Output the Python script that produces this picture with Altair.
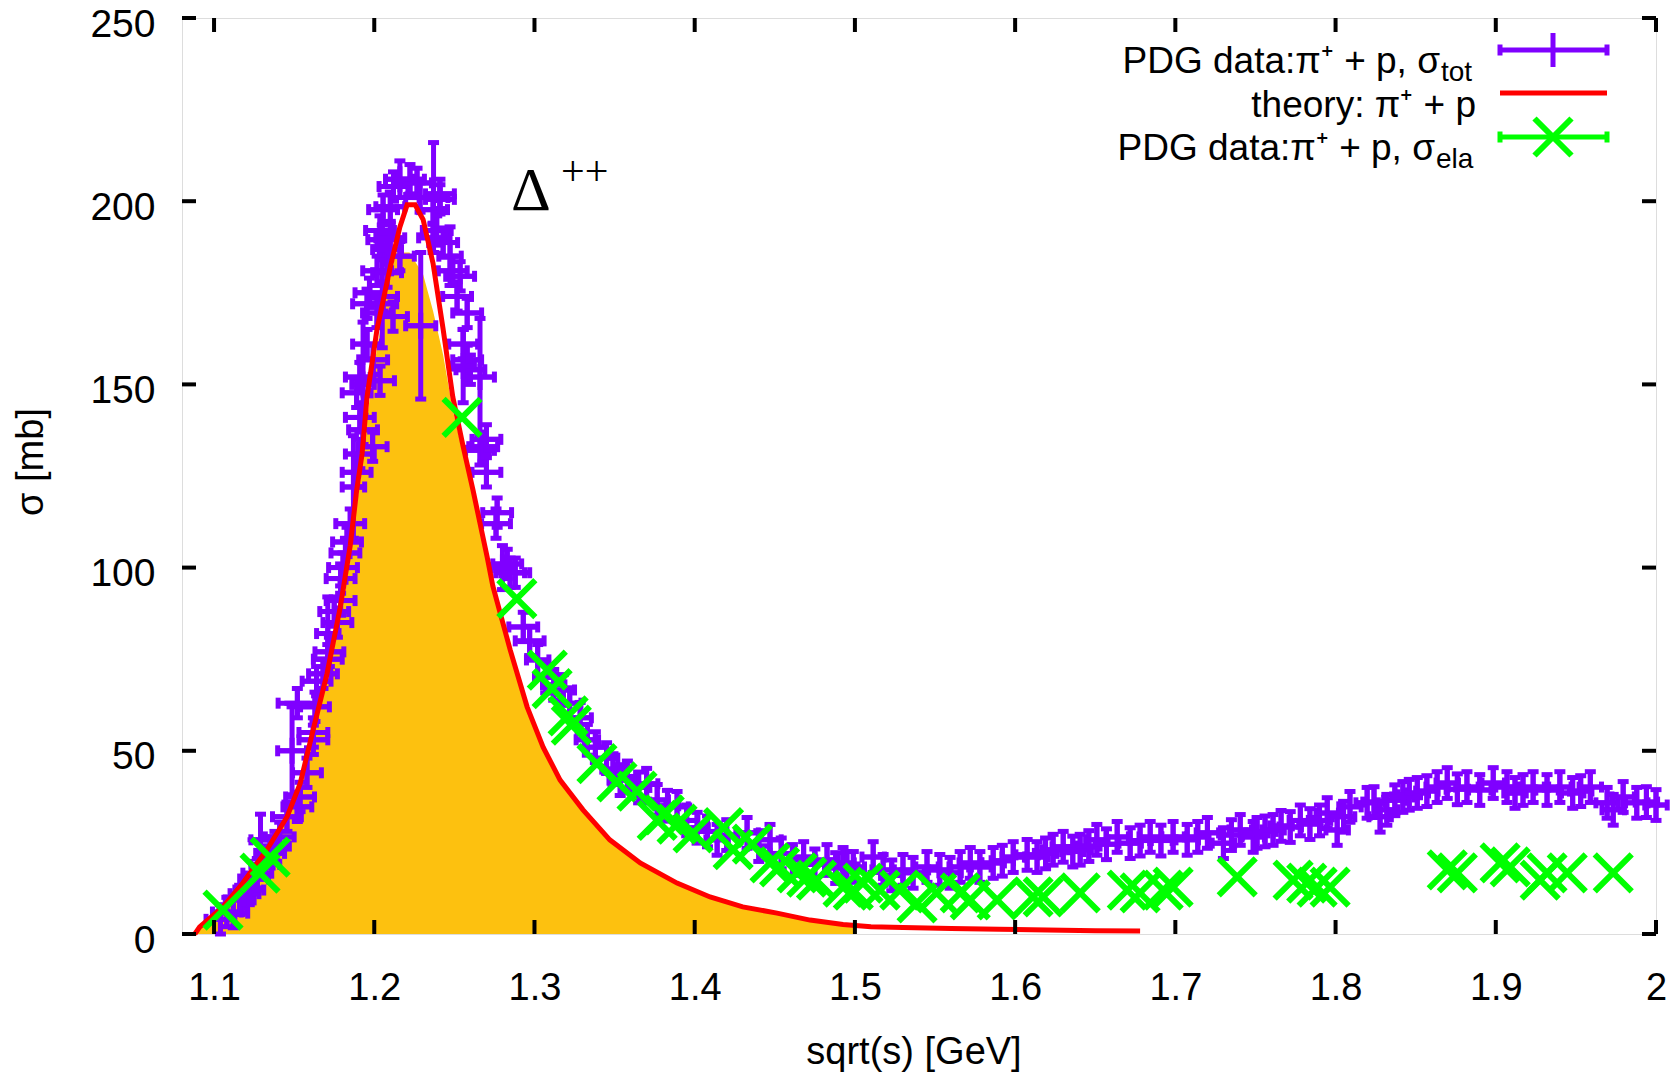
import altair as alt
import pandas as pd

# ---------------- data ----------------
x_ticks = [1.1, 1.2, 1.3, 1.4, 1.5, 1.6, 1.7, 1.8, 1.9, 2.0]
y_ticks = [0, 50, 100, 150, 200, 250]

# theory curve pi+ p (red line)
th_x = [1.088, 1.091, 1.1056, 1.118, 1.133, 1.1456, 1.1537, 1.162, 1.1705, 1.1787,
        1.185, 1.189, 1.1924, 1.1955, 1.2017, 1.21, 1.216, 1.2205, 1.2255, 1.2305,
        1.2367, 1.243, 1.249, 1.2555, 1.2617, 1.2704, 1.274, 1.2848, 1.2954, 1.3054,
        1.316, 1.3303, 1.347, 1.366, 1.389, 1.4096, 1.430, 1.4514, 1.472, 1.4926,
        1.51, 1.53, 1.56, 1.59, 1.62, 1.65, 1.678]
th_y = [0, 1.9, 7.4, 13.9, 23, 32, 41, 56, 71, 89,
        106, 121, 131, 146.6, 165, 182, 193, 199, 199, 195,
        183, 165, 146.6, 133, 121, 103, 95, 77.6, 62, 51,
        42, 33.9, 25.7, 19.4, 13.9, 10.1, 7.4, 5.7, 3.8, 2.6,
        2.0, 1.8, 1.5, 1.3, 1.1, 0.9, 0.8]

# orange filled contribution (flattened below the red peak)
fill_x = [1.088, 1.091, 1.1056, 1.118, 1.133, 1.1456, 1.1537, 1.162, 1.1705, 1.1787,
          1.185, 1.189, 1.1924, 1.1955, 1.2017, 1.208, 1.2135, 1.222, 1.2305, 1.2367,
          1.243, 1.249, 1.2555, 1.2617, 1.2704, 1.274, 1.2848, 1.2954, 1.3054, 1.316,
          1.3303, 1.347, 1.366, 1.389, 1.4096, 1.430, 1.4514, 1.472, 1.4926, 1.499]
fill_y = [0, 1.5, 7, 13.5, 22.5, 31, 40, 54, 69, 86,
          103, 117, 127, 141, 160, 175, 186, 186, 180, 170,
          158, 143, 131, 119, 102, 94, 77, 61.5, 50.5, 41.5,
          33.5, 25.3, 19, 13.6, 9.8, 7.1, 5.4, 3.6, 2.5, 2.3]

# PDG total cross section, peak region (typical errors)
pk_x = [1.104, 1.108, 1.112, 1.116, 1.119, 1.122, 1.125, 1.127, 1.132, 1.135,
        1.138, 1.141, 1.1455, 1.152, 1.1537, 1.158, 1.162, 1.162, 1.163, 1.164,
        1.168, 1.171, 1.172, 1.175, 1.177, 1.179, 1.179, 1.1805, 1.182, 1.183,
        1.185, 1.189, 1.191, 1.191, 1.193, 1.189, 1.191, 1.1955, 1.1955, 1.197,
        1.199, 1.1993, 1.2017, 1.2018, 1.2036, 1.2036, 1.2055, 1.2055, 1.205, 1.208,
        1.208, 1.210, 1.21, 1.212, 1.2117, 1.216, 1.2223, 1.2267, 1.2286, 1.2367,
        1.2367, 1.239, 1.241, 1.241, 1.243, 1.249, 1.2517, 1.2536, 1.2555, 1.258,
        1.258, 1.26, 1.266, 1.268, 1.270, 1.270, 1.2767, 1.276, 1.283, 1.2848,
        1.288, 1.293, 1.297]
pk_y = [4, 6, 5.7, 9.3, 11, 12, 15, 16.6, 19, 22,
        24, 26.5, 32, 34.7, 37.4, 44, 53, 55, 62, 69,
        71, 75, 77, 88, 85, 91, 97, 100, 104, 107,
        112, 126, 131, 141, 137.6, 147.7, 152, 161, 172, 175,
        133, 156.7, 169.5, 181, 151, 192, 174, 197.7, 189.5, 180.5,
        186.8, 198.5, 190, 204, 168.5, 185, 206, 205, 201, 197.7,
        190, 192, 202, 200.5, 188.7, 181, 174, 179.5, 161, 169.5,
        156.7, 154, 132, 133, 135, 126, 115, 112, 101, 98.6,
        98.6, 83.8, 80]

# PDG total cross section, tail region (typical errors)
tl_x = [1.302, 1.307, 1.312, 1.318, 1.322, 1.3285, 1.333, 1.338, 1.345, 1.349,
        1.3535, 1.358, 1.365, 1.370, 1.3766, 1.383, 1.389, 1.395, 1.4015, 1.408,
        1.414, 1.42, 1.4327, 1.44, 1.447, 1.454, 1.461, 1.468, 1.475, 1.4826,
        1.488, 1.4926, 1.495, 1.499, 1.5114, 1.5176, 1.523, 1.530, 1.5363, 1.545,
        1.553, 1.5594, 1.5657, 1.572, 1.578, 1.5863, 1.592, 1.5988, 1.6075, 1.6137,
        1.619, 1.6237, 1.630, 1.636, 1.6406, 1.646, 1.651, 1.657, 1.6637, 1.6718,
        1.678, 1.6843, 1.691, 1.6986, 1.7074, 1.714, 1.720, 1.730, 1.735, 1.7405,
        1.7486, 1.751, 1.756, 1.761, 1.766, 1.7717, 1.778, 1.784, 1.790, 1.7948,
        1.801, 1.805, 1.809, 1.8197, 1.824, 1.8278, 1.832, 1.837, 1.842, 1.846,
        1.851, 1.857, 1.8634, 1.8697, 1.876, 1.882, 1.890, 1.8984, 1.907, 1.912,
        1.917, 1.9233, 1.932, 1.940, 1.948, 1.953, 1.959, 1.9695, 1.9733, 1.9795,
        1.988, 1.994, 2.0]
tl_y = [74.8, 70, 68, 66.6, 63, 59, 53, 51, 48, 45,
        42, 43, 40, 41, 36.6, 35, 34.7, 31, 29, 28,
        25.7, 27, 27.6, 24, 25.7, 22, 20.2, 21, 19, 20.2,
        18, 19.4, 18.3, 18.3, 21, 17.5, 16, 17.5, 16.7, 18.3,
        17.5, 16.7, 18.3, 19.4, 18.3, 19.4, 20, 21, 21.6, 21,
        22, 23, 23.8, 22.5, 23, 24, 25.7, 24.5, 26.5, 24.8,
        25.5, 26.5, 25.5, 26.5, 25.7, 26.5, 27.6, 24.8, 27, 28.4,
        26.5, 27.6, 28, 28.4, 29.5, 29.2, 31, 30, 31, 33,
        28.4, 32, 34.7, 35.8, 36, 32, 33.9, 36.5, 37.4, 38,
        38.5, 39, 40.1, 41.2, 39.5, 40.1, 39.3, 41.2, 40.1, 38.5,
        39.3, 40.1, 39.3, 40.1, 38.5, 39, 40.1, 35.8, 33.9, 37.4,
        35.8, 36, 35.2]

# points with large error bars (x, y, dx, dy)
big_x = [1.129, 1.1487, 1.152, 1.171, 1.187, 1.193, 1.205, 1.216, 1.229, 1.237, 1.2473, 1.2555, 1.266, 1.280]
big_y = [25.7, 50, 63, 82, 122, 150, 172, 206, 166, 201, 185, 155, 152, 100]
big_dx = [0.006, 0.009, 0.012, 0.007, 0.007, 0.007, 0.009, 0.009, 0.0094, 0.009, 0.007, 0.007, 0.009, 0.007]
big_dy = [7, 12, 4, 10, 14, 17, 12, 5, 20, 15, 8, 10, 16, 6]

# PDG elastic cross section (green X)
ela_x = [1.1056, 1.1287, 1.135, 1.2548, 1.289, 1.308, 1.311, 1.321, 1.323, 1.339,
         1.3515, 1.364, 1.3766, 1.381, 1.389, 1.399, 1.418, 1.424, 1.436, 1.447,
         1.453, 1.464, 1.470, 1.476, 1.4926, 1.499, 1.505, 1.5157, 1.528, 1.5388,
         1.551, 1.5657, 1.572, 1.5888, 1.6112, 1.6175, 1.6406, 1.67, 1.678, 1.6924,
         1.6986, 1.7386, 1.7735, 1.782, 1.7885, 1.7966, 1.8697, 1.876, 1.9027, 1.909,
         1.9277, 1.932, 1.9446, 1.9733]
ela_y = [6.5, 16.6, 21, 141, 91.5, 72, 67, 59.5, 57, 46.5,
         41.5, 39, 31, 32.5, 30, 27.6, 29, 23, 24.5, 19.4,
         18.3, 16.7, 15.5, 14.7, 12.8, 12, 13.9, 12, 12, 8.5,
         11.2, 11.2, 9.3, 9.3, 10.1, 10.1, 11.2, 12, 11.2, 12,
         12.8, 15.6, 14.7, 13.9, 12.8, 12.8, 17.5, 16.7, 19.4, 18.3,
         14.7, 16.7, 16.7, 16.7]

# ---------------- tables ----------------
pur = pd.concat([
    pd.DataFrame({"x": pk_x, "y": pk_y, "dx": 0.009, "dy": 4.0}),
    pd.DataFrame({"x": tl_x, "y": tl_y, "dx": 0.007, "dy": 4.2}),
    pd.DataFrame({"x": big_x, "y": big_y, "dx": big_dx, "dy": big_dy}),
], ignore_index=True)
pur["x0"] = pur["x"] - pur["dx"]
pur["x1"] = pur["x"] + pur["dx"]
pur["y0"] = pur["y"] - pur["dy"]
pur["y1"] = pur["y"] + pur["dy"]
vcaps = pd.concat([pd.DataFrame({"x": pur["x0"], "y": pur["y"]}),
                   pd.DataFrame({"x": pur["x1"], "y": pur["y"]})], ignore_index=True)
hcaps = pd.concat([pd.DataFrame({"x": pur["x"], "y": pur["y0"]}),
                   pd.DataFrame({"x": pur["x"], "y": pur["y1"]})], ignore_index=True)
theory = pd.DataFrame({"x": th_x, "y": th_y})
fill = pd.DataFrame({"x": fill_x, "y": fill_y})
ela = pd.DataFrame({"x": ela_x, "y": ela_y})
xt = pd.DataFrame({"v": x_ticks})
yt = pd.DataFrame({"v": y_ticks})
one = pd.DataFrame({"a": [0]})

# ---------------- styling ----------------
W, H = 1474, 916
FONT = "Liberation Sans"
PURPLE = "#7f00ff"
GREEN = "#00ff00"
RED = "#ff0000"
ORANGE = "#fdc10f"
PLUS = "M -1 0 L 1 0 M 0 -1 L 0 1"
XSH = "M -1 -1 L 1 1 M -1 1 L 1 -1"
HCAP = "M -1 0 L 1 0"
VCAP = "M 0 -1 L 0 1"
SW = 5

xs = alt.Scale(domain=[1.08, 2.0], nice=False, zero=False)
ys = alt.Scale(domain=[0, 250], nice=False, zero=False)
xaxis = alt.Axis(values=x_ticks, labelExpr="datum.value == 2 ? '2' : format(datum.value, '.1f')",
                 title=None, grid=False, domain=False, ticks=False, tickSize=0,
                 labelPadding=35, labelFontSize=38, labelFont=FONT, labelColor="black",
                 labelFlush=False, labelOverlap=False)
yaxis = alt.Axis(values=y_ticks, format="d", title=None, grid=False, domain=False,
                 ticks=False, tickSize=0, labelPadding=27, labelFontSize=39, labelFont=FONT,
                 labelColor="black", labelFlush=False, labelOverlap=False, labelOffset=6)


def X(f):
    return alt.X(f, type="quantitative", scale=xs, axis=xaxis)


def Y(f):
    return alt.Y(f, type="quantitative", scale=ys, axis=yaxis)


layers = []
layers.append(alt.Chart(fill).mark_area(color=ORANGE, opacity=1).encode(x=X("x"), y=Y("y")))
# purple data: error bars, caps and plus markers
layers.append(alt.Chart(pur).mark_rule(color=PURPLE, strokeWidth=SW).encode(x=X("x0"), x2="x1", y=Y("y")))
layers.append(alt.Chart(pur).mark_rule(color=PURPLE, strokeWidth=SW).encode(x=X("x"), y=Y("y0"), y2="y1"))
layers.append(alt.Chart(vcaps).mark_point(shape=VCAP, filled=False, color=PURPLE, strokeWidth=SW,
                                          size=121, opacity=1).encode(x=X("x"), y=Y("y")))
layers.append(alt.Chart(hcaps).mark_point(shape=HCAP, filled=False, color=PURPLE, strokeWidth=SW,
                                          size=121, opacity=1).encode(x=X("x"), y=Y("y")))
layers.append(alt.Chart(pur).mark_point(shape=PLUS, filled=False, color=PURPLE, strokeWidth=SW,
                                        size=676, opacity=1).encode(x=X("x"), y=Y("y")))
# theory
layers.append(alt.Chart(theory).mark_line(color=RED, strokeWidth=5).encode(x=X("x"), y=Y("y")))
# elastic
layers.append(alt.Chart(ela).mark_point(shape=XSH, filled=False, color=GREEN, strokeWidth=6,
                                        size=1369, opacity=1).encode(x=X("x"), y=Y("y")))

# inward ticks on all four sides
TK = 14
layers.append(alt.Chart(xt).mark_rule(color="black", strokeWidth=4).encode(
    x=X("v"), y=alt.value(H), y2=alt.value(H - TK)))
layers.append(alt.Chart(xt).mark_rule(color="black", strokeWidth=4).encode(
    x=X("v"), y=alt.value(0), y2=alt.value(TK)))
layers.append(alt.Chart(yt).mark_rule(color="black", strokeWidth=4).encode(
    y=Y("v"), x=alt.value(0), x2=alt.value(TK)))
layers.append(alt.Chart(yt).mark_rule(color="black", strokeWidth=4).encode(
    y=Y("v"), x=alt.value(W), x2=alt.value(W - TK)))


def txt(s, px, py, size, align="left", baseline="alphabetic", font=FONT, angle=0):
    kw = dict(text=s, align=align, baseline=baseline, fontSize=size, font=font, color="black")
    if angle:
        kw["angle"] = angle
    return alt.Chart(one).mark_text(**kw).encode(x=alt.value(px), y=alt.value(py))


def hline(x1, x2, py, color, sw):
    return alt.Chart(one).mark_rule(color=color, strokeWidth=sw).encode(
        x=alt.value(x1), x2=alt.value(x2), y=alt.value(py))


def sym(px, py, shape, color, size, sw):
    return alt.Chart(one).mark_point(shape=shape, filled=False, color=color, size=size,
                                     strokeWidth=sw, opacity=1).encode(x=alt.value(px), y=alt.value(py))


# legend
LX1, LX2, LXC = 1318, 1425, 1371
R1, R2, R3 = 32, 75, 119
layers += [
    hline(LX1, LX2, R1, PURPLE, SW),
    sym(LX1, R1, VCAP, PURPLE, 121, SW), sym(LX2, R1, VCAP, PURPLE, 121, SW),
    alt.Chart(one).mark_rule(color=PURPLE, strokeWidth=SW).encode(
        x=alt.value(LXC), y=alt.value(R1 - 17), y2=alt.value(R1 + 17)),
    hline(LX1, LX2, R2, RED, 5),
    hline(LX1, LX2, R3, GREEN, SW),
    sym(LX1, R3, VCAP, GREEN, 121, SW), sym(LX2, R3, VCAP, GREEN, 121, SW),
    sym(LXC, R3, XSH, GREEN, 1369, 6),
]
FS, FSUB = 37, 28
layers += [
    txt("PDG data:π\u207a + p, σ", 1258, 55, FS, align="right"),
    txt("tot", 1259, 63, FSUB),
    txt("theory: π\u207a + p", 1294, 99, FS, align="right"),
    txt("PDG data:π\u207a + p, σ", 1253, 142, FS, align="right"),
    txt("ela", 1254, 150, FSUB),
]
# resonance label
layers += [
    txt("Δ", 329, 192, 62, font="Liberation Serif"),
    txt("++", 379, 154, 42, baseline="middle", font="Liberation Serif"),
]
# axis titles
layers += [
    txt("sqrt(s) [GeV]", 732, 1035, 38, align="center", baseline="middle"),
    txt("σ [mb]", -150, 444, 38, align="center", baseline="middle", angle=270),
]

chart = alt.layer(*layers).properties(
    width=W, height=H,
    autosize=alt.AutoSizeParams(type="none"),
    padding={"left": 182, "top": 18, "right": 21, "bottom": 140},
).configure_view(stroke="black", strokeWidth=4).configure(background="white")

chart.save("out.html", embed_options={"renderer": "svg", "actions": False})
